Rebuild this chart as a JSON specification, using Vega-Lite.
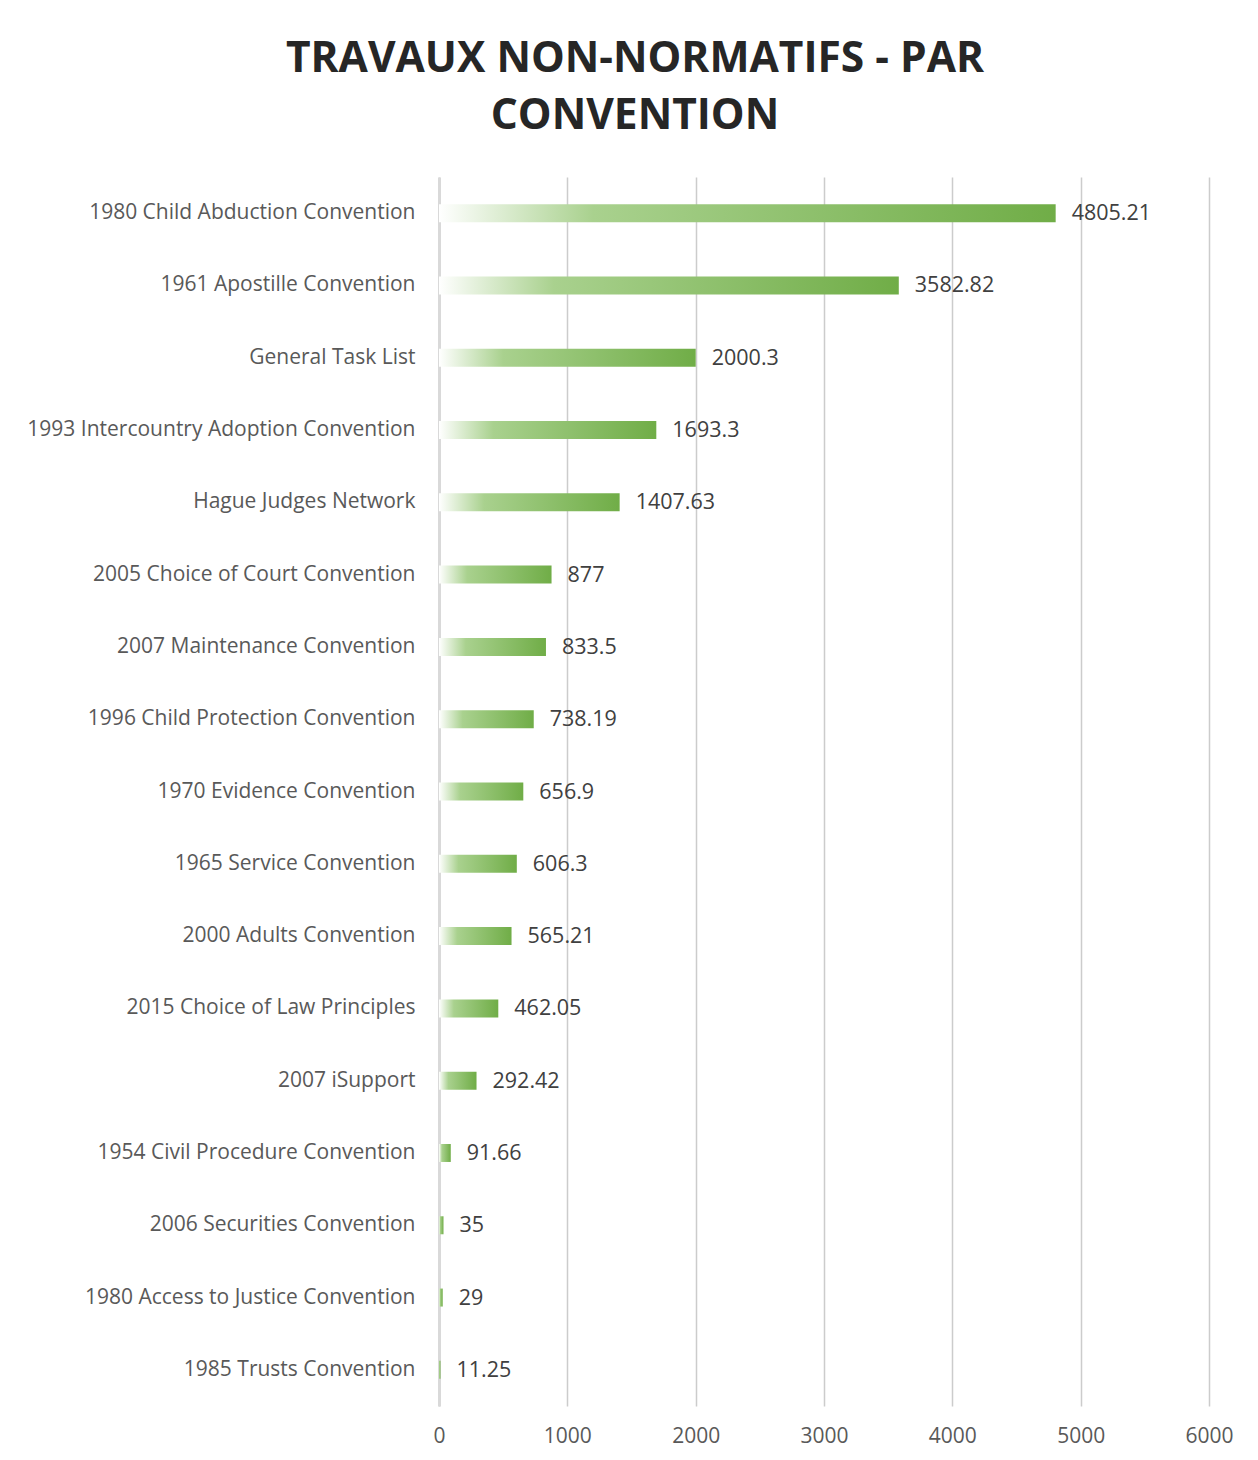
{
  "$schema": "https://vega.github.io/schema/vega-lite/v6.json",
  "autosize": {"type": "none"},
  "padding": {"left": 439, "top": 177, "right": 49, "bottom": 54},
  "width": 770,
  "height": 1229,
  "background": "white",
  "title": {
    "text": ["TRAVAUX NON-NORMATIFS - PAR", "CONVENTION"],
    "font": "Open Sans",
    "fontSize": 42.5,
    "fontWeight": "bold",
    "color": "#262626",
    "anchor": "middle",
    "dx": -189,
    "offset": 40,
    "lineHeight": 57
  },
  "config": {
    "view": {"stroke": null},
    "font": "Open Sans"
  },
  "data": {
    "values": [
      {"convention": "1980 Child Abduction Convention", "value": 4805.21},
      {"convention": "1961 Apostille Convention", "value": 3582.82},
      {"convention": "General Task List", "value": 2000.3},
      {"convention": "1993 Intercountry Adoption Convention", "value": 1693.3},
      {"convention": "Hague Judges Network", "value": 1407.63},
      {"convention": "2005 Choice of Court Convention", "value": 877},
      {"convention": "2007 Maintenance Convention", "value": 833.5},
      {"convention": "1996 Child Protection Convention", "value": 738.19},
      {"convention": "1970 Evidence Convention", "value": 656.9},
      {"convention": "1965 Service Convention", "value": 606.3},
      {"convention": "2000 Adults Convention", "value": 565.21},
      {"convention": "2015 Choice of Law Principles", "value": 462.05},
      {"convention": "2007 iSupport", "value": 292.42},
      {"convention": "1954 Civil Procedure Convention", "value": 91.66},
      {"convention": "2006 Securities Convention", "value": 35},
      {"convention": "1980 Access to Justice Convention", "value": 29},
      {"convention": "1985 Trusts Convention", "value": 11.25}
    ]
  },
  "encoding": {
    "y": {
      "field": "convention",
      "type": "nominal",
      "sort": null,
      "scale": {"paddingInner": 0, "paddingOuter": 0},
      "axis": {
        "title": null,
        "ticks": false,
        "labelFontSize": 21,
        "labelColor": "#595959",
        "labelFont": "Open Sans",
        "labelPadding": 24,
        "domainColor": "#d9d9d9",
        "domainWidth": 3,
        "labelLimit": 500
      }
    },
    "x": {
      "field": "value",
      "type": "quantitative",
      "scale": {"domain": [0, 6000], "nice": false},
      "axis": {
        "title": null,
        "values": [0, 1000, 2000, 3000, 4000, 5000, 6000],
        "format": "d",
        "labelFlush": false,
        "ticks": false,
        "domain": false,
        "grid": true,
        "gridColor": "#cccccc",
        "gridWidth": 1.5,
        "labelFontSize": 21,
        "labelColor": "#595959",
        "labelFont": "Open Sans",
        "labelPadding": 19
      }
    }
  },
  "layer": [
    {
      "mark": {
        "type": "bar",
        "size": 18,
        "color": {
          "gradient": "linear",
          "x1": 0, "y1": 0, "x2": 1, "y2": 0,
          "stops": [
            {"offset": 0, "color": "#ffffff"},
            {"offset": 0.25, "color": "#a9d18e"},
            {"offset": 1, "color": "#70ad47"}
          ]
        }
      }
    },
    {
      "mark": {
        "type": "text",
        "align": "left",
        "baseline": "middle",
        "dx": 16,
        "dy": 1,
        "fontSize": 21.5,
        "font": "Open Sans",
        "color": "#404040"
      },
      "encoding": {
        "text": {"field": "value", "type": "quantitative"}
      }
    }
  ]
}
